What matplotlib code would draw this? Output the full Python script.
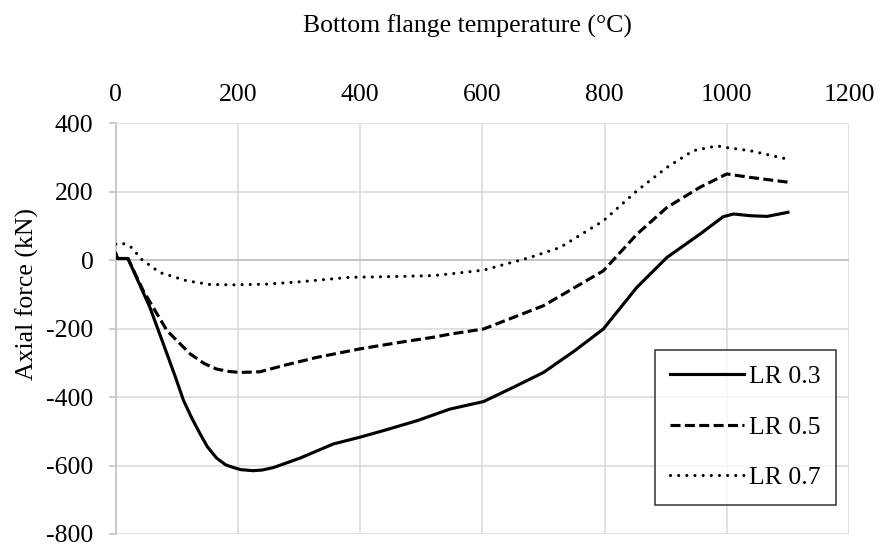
"""Axial force vs bottom flange temperature for three load ratios."""

import matplotlib
matplotlib.use("Agg")
import matplotlib.pyplot as plt

# values
TEMP_LR03 = [0, 3, 20, 56, 84, 98, 111, 125, 138, 150, 165, 180, 193, 205, 225,
             240, 258, 302, 356, 400, 438, 493, 547, 602, 650, 700, 750, 798,
             853, 902, 956, 994, 1011, 1038, 1066, 1100]
FORCE_LR03 = [20, 5, 5, -138, -274, -343, -410, -463, -507, -545, -578, -598,
              -606, -612, -615, -613, -606, -578, -537, -517, -498, -469, -435,
              -413, -372, -328, -266, -201, -79, 8, 76, 127, 135, 130, 128, 140]

TEMP_LR05 = [0, 3, 20, 45, 84, 122, 145, 165, 185, 203, 236, 274, 329, 400, 465,
             520, 547, 602, 700, 798, 853, 902, 956, 1000, 1038, 1100]
FORCE_LR05 = [20, 5, 5, -89, -206, -274, -302, -318, -325, -328, -326, -308,
              -284, -259, -240, -225, -216, -201, -133, -31, 76, 154, 213, 252,
              242, 228]

TEMP_LR07 = [0, 12, 26, 42, 72, 116, 154, 193, 247, 302, 383, 450, 520, 547, 602,
             678, 727, 798, 853, 902, 945, 984, 1000, 1038, 1100]
FORCE_LR07 = [47, 49, 37, 3, -36, -60, -71, -72, -70, -63, -50, -48, -45, -40,
              -29, 8, 37, 115, 203, 271, 320, 334, 329, 320, 295]

LABELS = ["LR 0.3", "LR 0.5", "LR 0.7"]
X_TICKS = [0, 200, 400, 600, 800, 1000, 1200]
Y_TICKS = [-800, -600, -400, -200, 0, 200, 400]

plt.rcParams["font.family"] = ["Liberation Serif", "DejaVu Serif"]
plt.rcParams["font.size"] = 18.5
plt.rcParams["axes.unicode_minus"] = False

W, H = 880, 548
fig = plt.figure(figsize=(W / 100, H / 100), dpi=100)
ax = fig.add_axes([115.7 / W, 1 - 534 / H, (849 - 115.7) / W, (534 - 123.3) / H])

grid_col = "#d9d9d9"
axis_col = "#bfbfbf"

ax.plot(TEMP_LR03, FORCE_LR03, color="black", lw=2.25, label=LABELS[0],
        solid_joinstyle="round", zorder=3)
ax.plot(TEMP_LR05, FORCE_LR05, color="black", lw=2.25, label=LABELS[1],
        linestyle=(0, (3.2, 1.4)), zorder=3)
ax.plot(TEMP_LR07, FORCE_LR07, color="black", lw=2.25, label=LABELS[2],
        linestyle=(0, (0.01, 2.6)), dash_capstyle="round", zorder=3)

ax.set_xlim(0, 1200)
ax.set_ylim(-800, 400)
ax.set_xticks(X_TICKS)
ax.set_yticks(Y_TICKS)
ax.xaxis.tick_top()
ax.tick_params(axis="x", length=0, pad=12.5)
ax.tick_params(axis="y", length=5, width=1.1, color=axis_col, pad=11)
ax.grid(True, color=grid_col, lw=1.1)
ax.set_axisbelow(True)
for side in ["top", "right", "bottom"]:
    ax.spines[side].set_visible(False)
ax.spines["left"].set_color(axis_col)
ax.spines["left"].set_linewidth(1.1)
ax.axhline(0, color=axis_col, lw=1.1, zorder=2)

fig.text(467 / W, 1 - 26 / H, "Bottom flange temperature (°C)",
         ha="center", va="center")
fig.text(27 / W, 1 - 294.5 / H, "Axial force (kN)", rotation=90,
         ha="center", va="center")

leg = ax.legend(loc="upper left", bbox_to_anchor=(655 / W, 1 - 350 / H),
                bbox_transform=fig.transFigure, frameon=True, fancybox=False,
                edgecolor="black", handlelength=2.85, handletextpad=0.2,
                labelspacing=1.07, borderpad=0.6, borderaxespad=0)
leg.get_frame().set_linewidth(1.1)

fig.savefig("out.png", dpi=100)
